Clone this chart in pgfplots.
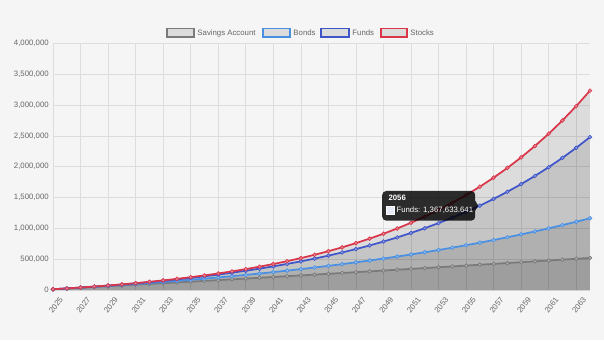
\documentclass[border=0pt]{standalone}
\usepackage{pgfplots}
\pgfplotsset{compat=1.18}
\usepackage{pgfplotstable}
\usepackage{fontspec}
\setmainfont{Liberation Sans}
\definecolor{bgc}{HTML}{F5F5F5}
\definecolor{txtgray}{HTML}{666666}
\definecolor{gridc}{HTML}{DDDDDD}
\definecolor{savc}{HTML}{7A7A7A}
\definecolor{bondc}{HTML}{4A90E2}
\definecolor{fundc}{HTML}{4055C8}
\definecolor{stockc}{HTML}{D9364A}
\definecolor{legfill}{HTML}{DCDCDC}
\newcommand{\chartfont}{\fontsize{5.85}{7}\selectfont}
\pgfplotstableread{
year sav bond fund stock
2025 12024 12240 12420 12480
2026 24096 24970 25709 25958
2027 36216 38208 39929 40515
2028 48386 51977 55144 56236
2029 60603 66296 71424 73215
2030 72869 81188 88844 91552
2031 85185 96675 107483 111357
2032 97550 112782 127427 132745
2033 109963 129533 148766 155845
2034 122427 146955 171600 180792
2035 134940 165073 196032 207736
2036 147504 183916 222175 236834
2037 160119 203512 250147 268261
2038 172783 223893 280077 302202
2039 185498 245089 312103 338858
2040 198264 267132 346370 378447
2041 211080 290058 383035 421203
2042 223948 313900 422268 467379
2043 236867 338696 464247 517249
2044 249837 364484 509164 571109
2045 262860 391303 557226 629278
2046 275935 419195 608651 692100
2047 289062 448203 663677 759948
2048 302240 478371 722554 833224
2049 315471 509746 785553 912362
2050 328756 542376 852962 997831
2051 342092 576311 925089 1090138
2052 355484 611603 1002265 1189829
2053 368926 648307 1084844 1297494
2054 382424 686480 1173203 1413774
2055 395974 726179 1267747 1539356
2056 409579 767466 1367634 1674985
2057 423238 810401 1477153 1821464
2058 436950 855061 1592974 1979661
2059 450717 901503 1716902 2150514
2060 464540 949803 1849505 2335035
2061 478416 1000035 1991390 2534318
2062 492348 1052277 2143208 2749543
2063 506335 1106610 2305652 2981987
2064 520378 1163112 2479468 3233025
}\growth
\begin{document}
\begin{tikzpicture}
\useasboundingbox (0,0) rectangle (453pt,255pt);
\fill[bgc] (0,0) rectangle (453pt,255pt);
\begin{axis}[
  at={(39.75pt,37.5pt)}, anchor=south west,
  width=402.75pt, height=185pt, scale only axis,
  xmin=2025, xmax=2064, ymin=0, ymax=4000000,
  xtick={2025,2027,...,2063},
  ytick={0,500000,1000000,1500000,2000000,2500000,3000000,3500000,4000000},
  scaled y ticks=false,
  axis lines=left,
  axis line style={-, draw=gridc, line width=0.5pt},
  grid=major,
  major grid style={draw=gridc, line width=0.5pt},
  tick style={draw=gridc, line width=0.5pt},
  major tick length=0pt,
  every tick label/.append style={font=\chartfont, text=txtgray},
  yticklabel style={/pgf/number format/fixed, /pgf/number format/1000 sep={,}, /pgf/number format/assume math mode=true, xshift=0.3pt},
  xticklabel style={/pgf/number format/1000 sep={}, /pgf/number format/assume math mode=true, rotate=52, anchor=north east, inner sep=1pt, xshift=0pt, yshift=-5.5pt},
  clip=false,
]
% fills
\addplot[draw=none, fill=black, fill opacity=0.1, forget plot] table[x=year, y=sav] {\growth} \closedcycle;
\addplot[draw=none, fill=black, fill opacity=0.1, forget plot] table[x=year, y=bond] {\growth} \closedcycle;
\addplot[draw=none, fill=black, fill opacity=0.1, forget plot] table[x=year, y=fund] {\growth} \closedcycle;
\addplot[draw=none, fill=black, fill opacity=0.1, forget plot] table[x=year, y=stock] {\growth} \closedcycle;
% lines
\addplot[savc, line width=1.3pt, mark=*, mark size=1.4pt, mark options={fill=savc!60!white, draw=savc, line width=0.5pt}] table[x=year, y=sav] {\growth};
\addplot[bondc, line width=1.3pt, mark=*, mark size=1.4pt, mark options={fill=bondc!60!white, draw=bondc, line width=0.5pt}] table[x=year, y=bond] {\growth};
\addplot[fundc, line width=1.3pt, mark=*, mark size=1.4pt, mark options={fill=fundc!60!white, draw=fundc, line width=0.5pt}] table[x=year, y=fund] {\growth};
\addplot[stockc, line width=1.3pt, mark=*, mark size=1.4pt, mark options={fill=stockc!60!white, draw=stockc, line width=0.5pt}] table[x=year, y=stock] {\growth};
\coordinate (P) at (axis cs:2056,1367633.641);
\end{axis}
% legend
\draw[draw=savc, fill=legfill, line width=1.1pt] (125.25pt,227.4pt) rectangle (145.5pt,233.6pt);
\node[anchor=base west, inner sep=0pt, text=txtgray, font=\chartfont] at (147.9pt,228.4pt) {Savings Account};
\draw[draw=bondc, fill=legfill, line width=1.1pt] (197.25pt,227.4pt) rectangle (217.5pt,233.6pt);
\node[anchor=base west, inner sep=0pt, text=txtgray, font=\chartfont] at (219.9pt,228.4pt) {Bonds};
\draw[draw=fundc, fill=legfill, line width=1.1pt] (240.75pt,227.4pt) rectangle (261.75pt,233.6pt);
\node[anchor=base west, inner sep=0pt, text=txtgray, font=\chartfont] at (264.1pt,228.4pt) {Funds};
\draw[draw=stockc, fill=legfill, line width=1.1pt] (285.75pt,227.4pt) rectangle (305.25pt,233.6pt);
\node[anchor=base west, inner sep=0pt, text=txtgray, font=\chartfont] at (307.6pt,228.4pt) {Stocks};
% tooltip
\fill[black, opacity=0.82, rounded corners=3pt] ([shift={(-73.2pt,11pt)}]P) rectangle ([shift={(-3.45pt,-11.25pt)}]P);
\fill[black, opacity=0.82] ([shift={(-3.45pt,3.75pt)}]P) -- ([shift={(-1.2pt,0pt)}]P) -- ([shift={(-3.45pt,-3.75pt)}]P) -- cycle;
\node[anchor=west, inner sep=0pt, text=white, font=\chartfont\bfseries] at ([shift={(-68.7pt,5.6pt)}]P) {2056};
\filldraw[fill=fundc!12!white, draw=white, line width=0.4pt] ([shift={(-70.2pt,-0.2pt)}]P) rectangle ([shift={(-64.2pt,-6.2pt)}]P);
\node[anchor=west, inner sep=0pt, text=white, font=\chartfont] at ([shift={(-62.7pt,-3.3pt)}]P) {Funds: 1,367,633.641};
\end{tikzpicture}
\end{document}
